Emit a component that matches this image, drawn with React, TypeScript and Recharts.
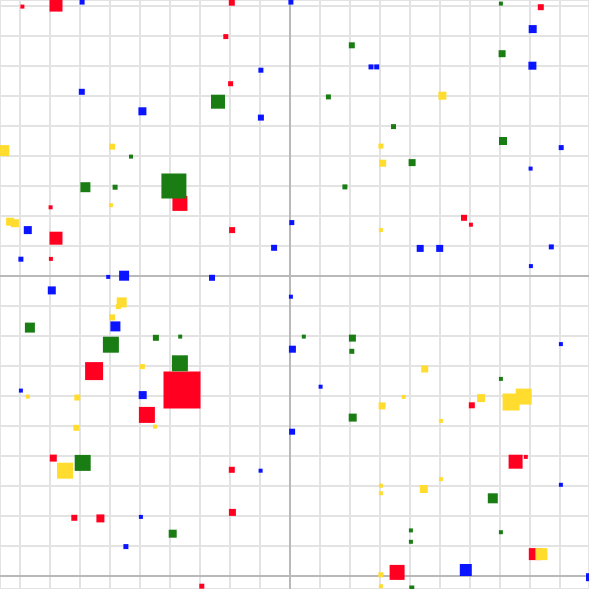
import React from 'react';
import { ScatterChart, Scatter, XAxis, YAxis, ZAxis, CartesianGrid, ReferenceLine } from 'recharts';

type P = { x: number; y: number; z: number };

const xTicks = [-9, -8, -7, -6, -5, -4, -3, -2, -1, 0, 1, 2, 3, 4, 5, 6, 7, 8, 9];
const yTicks = [-10, -9, -8, -7, -6, -5, -4, -3, -2, -1, 0, 1, 2, 3, 4, 5, 6, 7, 8, 9];

const redPoints: P[] = [
  { x: -8.92, y: 8.98, z: 16 }, { x: -7.8, y: 9.03, z: 169 }, { x: -3.67, y: 2.42, z: 225 },
  { x: -1.94, y: 9.11, z: 36 }, { x: -2.14, y: 7.98, z: 25 }, { x: -1.98, y: 6.41, z: 25 },
  { x: 8.36, y: 8.96, z: 36 }, { x: -7.98, y: 2.29, z: 16 }, { x: -7.8, y: 1.26, z: 169 },
  { x: -7.97, y: 0.57, z: 16 }, { x: -6.53, y: -3.17, z: 324 }, { x: -3.6, y: -3.8, z: 1369 },
  { x: -4.77, y: -4.63, z: 256 }, { x: -7.89, y: -6.07, z: 49 }, { x: -7.19, y: -8.06, z: 36 },
  { x: -6.32, y: -8.08, z: 64 }, { x: -2.94, y: -10.34, z: 25 }, { x: -1.93, y: 1.53, z: 36 },
  { x: 5.8, y: 1.94, z: 36 }, { x: 6.03, y: 1.71, z: 16 }, { x: -1.94, y: -6.46, z: 36 },
  { x: -1.92, y: -7.88, z: 49 }, { x: 3.57, y: -9.88, z: 225 }, { x: 6.06, y: -4.31, z: 36 },
  { x: 7.52, y: -6.19, z: 196 }, { x: 7.86, y: -6.03, z: 16 }, { x: 8.16, y: -9.27, z: 144 },
];

const bluePoints: P[] = [
  { x: -6.93, y: 9.13, z: 25 }, { x: -6.94, y: 6.14, z: 36 }, { x: -4.92, y: 5.49, z: 64 },
  { x: 0.03, y: 9.13, z: 25 }, { x: 2.7, y: 6.97, z: 25 }, { x: 2.89, y: 6.97, z: 25 },
  { x: -0.97, y: 6.86, z: 25 }, { x: -0.97, y: 5.28, z: 36 }, { x: 8.09, y: 8.23, z: 64 },
  { x: 8.08, y: 7.01, z: 64 }, { x: 9.04, y: 4.28, z: 25 }, { x: 8.02, y: 3.58, z: 16 },
  { x: -8.74, y: 1.53, z: 64 }, { x: -8.97, y: 0.56, z: 25 }, { x: -6.06, y: -0.03, z: 16 },
  { x: -5.53, y: 0.01, z: 100 }, { x: -7.94, y: -0.48, z: 64 }, { x: -5.82, y: -1.68, z: 100 },
  { x: -8.97, y: -3.82, z: 16 }, { x: -4.91, y: -3.97, z: 64 }, { x: -4.97, y: -8.03, z: 16 },
  { x: -5.47, y: -9.02, z: 25 }, { x: 0.06, y: 1.78, z: 25 }, { x: -0.53, y: 0.94, z: 36 },
  { x: -2.6, y: -0.06, z: 36 }, { x: 0.03, y: -0.69, z: 16 }, { x: 0.08, y: -2.44, z: 49 },
  { x: 1.02, y: -3.69, z: 16 }, { x: 0.07, y: -5.19, z: 36 }, { x: -0.98, y: -6.49, z: 16 },
  { x: 4.34, y: 0.92, z: 49 }, { x: 4.99, y: 0.92, z: 49 }, { x: 8.71, y: 0.97, z: 25 },
  { x: 8.03, y: 0.33, z: 16 }, { x: 9.03, y: -2.27, z: 16 }, { x: 9.03, y: -6.96, z: 16 },
  { x: 5.86, y: -9.8, z: 144 }, { x: 10.0, y: -10.04, z: 64 },
  { x: 10.05, y: 3.3, z: 25 }, { x: 10.05, y: 2.63, z: 25 }, { x: 10.05, y: -1.13, z: 25 },
  { x: 10.05, y: -2.53, z: 25 },
];

const greenPoints: P[] = [
  { x: -5.3, y: 3.98, z: 16 }, { x: -6.82, y: 2.96, z: 100 }, { x: -5.83, y: 2.96, z: 25 },
  { x: -3.87, y: 3.0, z: 625 }, { x: 2.06, y: 7.69, z: 36 }, { x: -2.4, y: 5.81, z: 196 },
  { x: 1.28, y: 5.97, z: 25 }, { x: 3.45, y: 4.98, z: 25 }, { x: 1.83, y: 2.97, z: 25 },
  { x: 7.03, y: 9.08, z: 16 }, { x: 7.07, y: 7.41, z: 49 }, { x: 7.1, y: 4.5, z: 64 },
  { x: 4.07, y: 3.78, z: 49 }, { x: -8.67, y: -1.72, z: 100 }, { x: -4.47, y: -2.06, z: 36 },
  { x: -3.66, y: -2.02, z: 16 }, { x: -5.97, y: -2.29, z: 256 }, { x: -3.67, y: -2.91, z: 256 },
  { x: -6.91, y: -6.23, z: 256 }, { x: -3.91, y: -8.59, z: 64 }, { x: 0.46, y: -2.02, z: 16 },
  { x: 2.08, y: -2.07, z: 49 }, { x: 2.06, y: -2.51, z: 25 }, { x: 2.09, y: -4.72, z: 64 },
  { x: 7.03, y: -3.43, z: 16 }, { x: 6.76, y: -7.41, z: 100 }, { x: 4.03, y: -8.48, z: 16 },
  { x: 4.03, y: -8.86, z: 16 }, { x: 7.03, y: -8.54, z: 16 }, { x: 4.06, y: -10.4, z: 25 },
];

const yellowPoints: P[] = [
  { x: -9.54, y: 4.18, z: 121 }, { x: -5.93, y: 4.31, z: 36 }, { x: 3.03, y: 4.33, z: 25 },
  { x: 3.09, y: 3.76, z: 49 }, { x: 5.08, y: 6.01, z: 64 }, { x: -5.97, y: 2.36, z: 16 },
  { x: -9.33, y: 1.81, z: 64 }, { x: -9.17, y: 1.76, z: 64 }, { x: -5.61, y: -0.88, z: 100 },
  { x: -5.72, y: -1.02, z: 25 }, { x: -5.93, y: -1.38, z: 36 }, { x: -4.92, y: -3.02, z: 25 },
  { x: -8.74, y: -4.02, z: 16 }, { x: -7.09, y: -4.05, z: 36 }, { x: -4.5, y: -5.02, z: 16 },
  { x: -7.12, y: -5.06, z: 36 }, { x: -7.5, y: -6.49, z: 256 }, { x: 3.03, y: 1.53, z: 16 },
  { x: 3.07, y: -4.33, z: 49 }, { x: 3.03, y: -6.99, z: 16 }, { x: 3.03, y: -7.24, z: 16 },
  { x: 3.03, y: -9.96, z: 25 }, { x: 3.03, y: -10.34, z: 16 }, { x: 4.49, y: -3.1, z: 49 },
  { x: 3.79, y: -4.03, z: 16 }, { x: 6.37, y: -4.07, z: 64 }, { x: 7.37, y: -4.2, z: 289 },
  { x: 7.79, y: -4.02, z: 256 }, { x: 5.03, y: -4.83, z: 16 }, { x: 5.03, y: -6.77, z: 16 },
  { x: 4.46, y: -7.1, z: 64 }, { x: 8.38, y: -9.27, z: 144 },
];

export default function App() {
  return (
    <div style={{ position: 'absolute', left: 0, top: 0, width: 589, height: 589, background: '#fff' }}>
      <ScatterChart width={589} height={589} margin={{ top: 0, right: 0, bottom: 0, left: 0 }}>
        <CartesianGrid stroke="#e3e3e3" strokeWidth={2} />
        <XAxis
          type="number"
          dataKey="x"
          hide
          domain={[-290 / 30, 299 / 30]}
          ticks={xTicks}
          allowDataOverflow
        />
        <YAxis
          type="number"
          dataKey="y"
          hide
          domain={[-313 / 30, 276 / 30]}
          ticks={yTicks}
          allowDataOverflow
        />
        <ZAxis type="number" dataKey="z" domain={[0, 1600]} range={[0, 1600]} />
        <ReferenceLine x={0} stroke="#b9b9b9" strokeWidth={2} />
        <ReferenceLine y={0} stroke="#b9b9b9" strokeWidth={2} />
        <ReferenceLine y={-10} stroke="#b9b9b9" strokeWidth={2} />
        <Scatter data={redPoints} fill="#ff0020" shape="square" isAnimationActive={false} />
        <Scatter data={bluePoints} fill="#0a14ff" shape="square" isAnimationActive={false} />
        <Scatter data={greenPoints} fill="#1a7d14" shape="square" isAnimationActive={false} />
        <Scatter data={yellowPoints} fill="#ffdc2e" shape="square" isAnimationActive={false} />
      </ScatterChart>
    </div>
  );
}
